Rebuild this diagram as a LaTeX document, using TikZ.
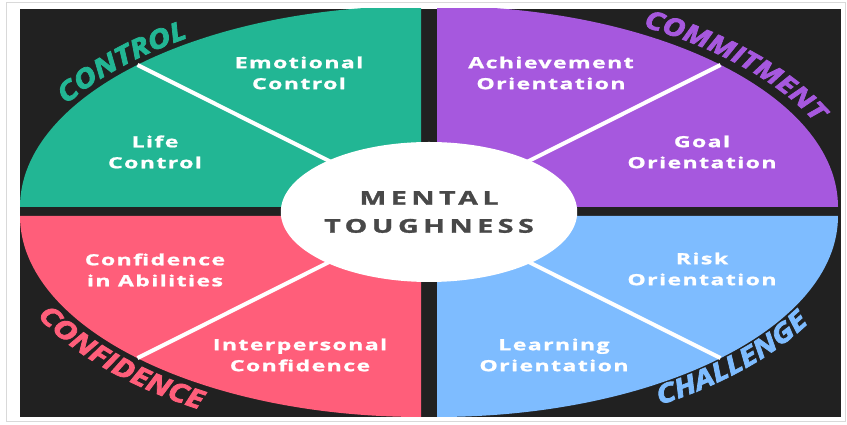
\documentclass[tikz,border=0pt]{standalone}
\usepackage{fontspec}
\usetikzlibrary{decorations.text,shapes.geometric}
\newfontfamily\lblfont{Open Sans Bold}[FakeStretch=1.5,LetterSpace=9,FakeBold=1.2]
\newfontfamily\hubfont{Open Sans Bold}[FakeStretch=1.5,LetterSpace=24,FakeBold=1.5]
\newfontfamily\arcfont{Open Sans Bold Italic}[FakeStretch=1.2,FakeBold=3]
\definecolor{ctlgreen}{RGB}{34,182,148}
\definecolor{cmtpurple}{RGB}{166,88,222}
\definecolor{cnfpink}{RGB}{255,94,122}
\definecolor{chlblue}{RGB}{126,188,255}
\definecolor{panel}{RGB}{33,33,33}
\definecolor{hubtext}{RGB}{72,72,72}
\newcommand\arcstyle[2]{\arcfont\fontsize{#2}{#2}\selectfont\color{#1}}
\tikzset{
  divider/.style={white, line width=4pt},
  sublabel/.style={white, align=center, anchor=north, inner sep=0pt,
    font={\lblfont\fontsize{15.4}{21}\selectfont}},
  hubnode/.style={ellipse, fill=white, inner sep=0pt, minimum width=286pt,
    minimum height=140pt, align=center, text=hubtext,
    font={\hubfont\fontsize{19}{28}\selectfont}},
  arclabel/.style={decorate, decoration={text along path, text align=center}},
}
\begin{document}
\begin{tikzpicture}[x=1pt,y=1pt]
  \useasboundingbox (0,0) rectangle (847,425);
  % outer frame and dark panel
  \draw[gray!30, line width=1pt] (6,3) rectangle (845,422);
  \fill[panel] (20,8) rectangle (841,416);
  % quadrant corners
  \coordinate (gc) at (421,218);
  \coordinate (pc) at (437,218);
  \coordinate (kc) at (421,209);
  \coordinate (bc) at (437,209);
  \begin{scope}
    \clip (20,8) rectangle (841,416);
    \fill[ctlgreen] (gc) -- ([shift={(gc)}]180:401 and 201) arc[start angle=180, end angle=90, x radius=401, y radius=201] -- cycle;
    \fill[cmtpurple] (pc) -- ([shift={(pc)}]0:401 and 201) arc[start angle=0, end angle=90, x radius=401, y radius=201] -- cycle;
    \fill[cnfpink] (kc) -- ([shift={(kc)}]180:401 and 201) arc[start angle=180, end angle=270, x radius=401, y radius=201] -- cycle;
    \fill[chlblue] (bc) -- ([shift={(bc)}]0:401 and 201) arc[start angle=0, end angle=-90, x radius=401, y radius=201] -- cycle;
  \end{scope}
  % rim points of the dividers
  \coordinate (grim) at ([shift={(gc)}]135:401 and 201);
  \coordinate (prim) at ([shift={(pc)}]45:401 and 201);
  \coordinate (krim) at ([shift={(kc)}]225:401 and 201);
  \coordinate (brim) at ([shift={(bc)}]315:401 and 201);
  \draw[divider] (grim) -- (gc);
  \draw[divider] (prim) -- (pc);
  \draw[divider] (krim) -- (kc);
  \draw[divider] (brim) -- (bc);
  % hub
  \node[hubnode] (hub) at (429,213) {MENTAL\\TOUGHNESS};
  % sub-factor labels
  \node[sublabel] (emo) at (299,368.7) {Emotional\\Control};
  \node[sublabel] (ach) at (551,368.7) {Achievement\\Orientation};
  \node[sublabel] (life) at (155,289.7) {Life\\Control};
  \node[sublabel] (goal) at (702,289.7) {Goal\\Orientation};
  \node[sublabel] (abil) at (155,171.7) {Confidence\\in Abilities};
  \node[sublabel] (inter) at (300,86.7) {Interpersonal\\Confidence};
  \node[sublabel] (risk) at (702,172.7) {Risk\\Orientation};
  \node[sublabel] (learn) at (554,86.7) {Learning\\Orientation};
  % curved scale names, centred on their arcs
  \path[arclabel, decoration={text={|\arcstyle{ctlgreen}{26}|CONTROL}}]
    ([shift={(gc)}]163:409 and 206) arc[start angle=163, end angle=116, x radius=409, y radius=206];
  \path[arclabel, decoration={text={|\arcstyle{cmtpurple}{25}|COMMITMENT}}]
    ([shift={(pc)}]68:414 and 208) arc[start angle=68, end angle=11, x radius=414, y radius=208];
  \path[arclabel, decoration={text={|\arcstyle{cnfpink}{26}|CONFIDENCE}}]
    ([shift={(kc)}]194:428 and 226) arc[start angle=194, end angle=247, x radius=428, y radius=226];
  \path[arclabel, decoration={text={|\arcstyle{chlblue}{26}|CHALLENGE}}]
    ([shift={(bc)}]292:424 and 222) arc[start angle=292, end angle=346, x radius=424, y radius=222];
\end{tikzpicture}
\end{document}
